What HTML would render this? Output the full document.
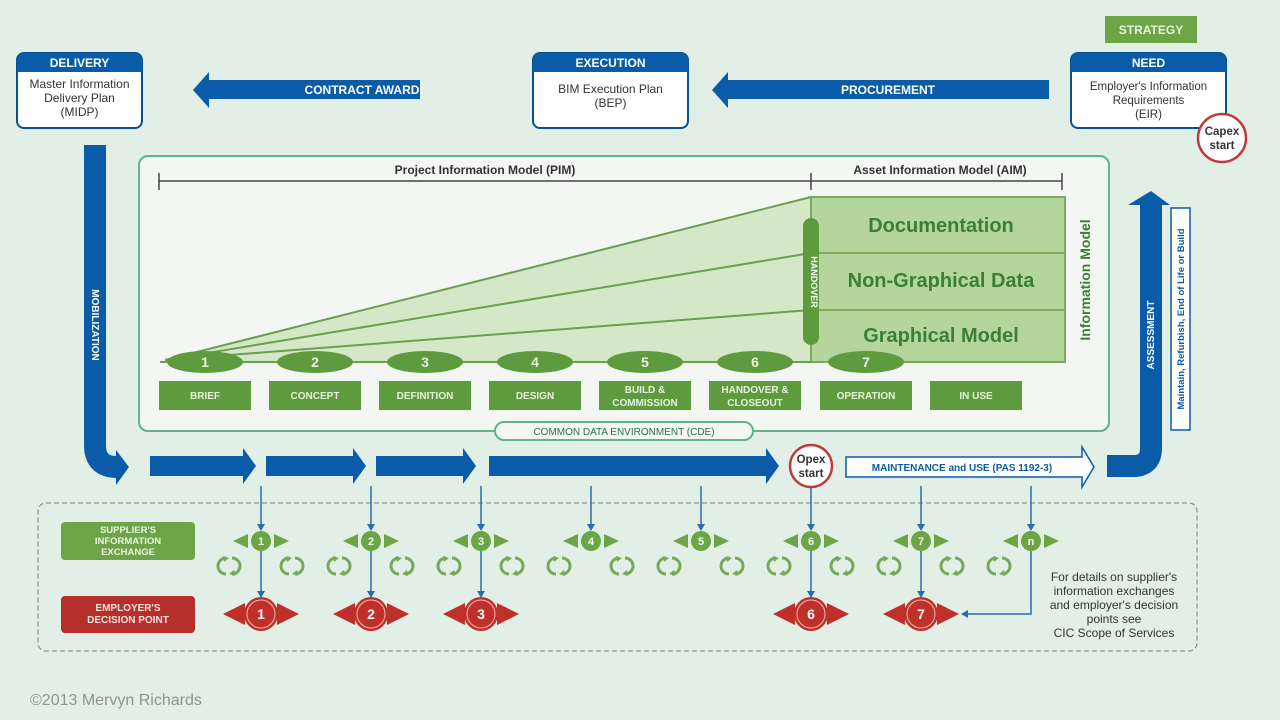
<!DOCTYPE html>
<html><head><meta charset="utf-8"><style>
html,body{margin:0;padding:0;background:#e1efe6;}
svg{display:block;font-family:"Liberation Sans",sans-serif;}
</style></head><body>
<svg width="1280" height="720" viewBox="0 0 1280 720" xmlns="http://www.w3.org/2000/svg">
<rect width="1280" height="720" fill="#e1efe6"/>
<defs>
<g id="cyc"><path d="M-3,-8 A8,8 0 0 0 -3,8" fill="none" stroke="#7aa85a" stroke-width="3"/><path d="M3,8 A8,8 0 0 0 3,-8" fill="none" stroke="#7aa85a" stroke-width="3"/><polygon points="-6,-10 0,-8 -5,-4" fill="#7aa85a"/><polygon points="6,10 0,8 5,4" fill="#7aa85a"/></g>
</defs>

<rect x="1105" y="16" width="92" height="27" fill="#6ba545"/>
<text x="1151" y="34" font-size="12" font-weight="bold" fill="#eaf5e0" text-anchor="middle">STRATEGY</text>

<g font-size="12" text-anchor="middle">
<rect x="17" y="53" width="125" height="75" rx="7" fill="#fff" stroke="#0a4f8f" stroke-width="2"/>
<path d="M17,72 V60 a7,7 0 0 1 7,-7 H135 a7,7 0 0 1 7,7 V72 Z" fill="#0a5ca8"/>
<text x="79.5" y="67" fill="#fff" font-weight="bold">DELIVERY</text>
<text x="79.5" y="88" fill="#333">Master Information</text>
<text x="79.5" y="102" fill="#333">Delivery Plan</text>
<text x="79.5" y="116" fill="#333">(MIDP)</text>

<rect x="533" y="53" width="155" height="75" rx="7" fill="#fff" stroke="#0a4f8f" stroke-width="2"/>
<path d="M533,72 V60 a7,7 0 0 1 7,-7 H681 a7,7 0 0 1 7,7 V72 Z" fill="#0a5ca8"/>
<text x="610.5" y="67" fill="#fff" font-weight="bold">EXECUTION</text>
<text x="610.5" y="93" fill="#333">BIM Execution Plan</text>
<text x="610.5" y="107" fill="#333">(BEP)</text>

<rect x="1071" y="53" width="155" height="75" rx="7" fill="#fff" stroke="#0a4f8f" stroke-width="2"/>
<path d="M1071,72 V60 a7,7 0 0 1 7,-7 H1219 a7,7 0 0 1 7,7 V72 Z" fill="#0a5ca8"/>
<text x="1148.5" y="67" fill="#fff" font-weight="bold">NEED</text>
<text x="1148.5" y="90" fill="#333" font-size="11.5">Employer's Information</text>
<text x="1148.5" y="104" fill="#333" font-size="11.5">Requirements</text>
<text x="1148.5" y="118" fill="#333" font-size="11.5">(EIR)</text>
</g>
<circle cx="1222" cy="138" r="24" fill="#fff" stroke="#c0393b" stroke-width="2.5"/>
<text x="1222" y="135" font-size="11.5" font-weight="bold" fill="#333" text-anchor="middle">Capex</text>
<text x="1222" y="149" font-size="11.5" font-weight="bold" fill="#333" text-anchor="middle">start</text>

<polygon points="193,90 209,72 209,80 420,80 420,99 209,99 209,108" fill="#0a5ca8"/>
<text x="362" y="94" font-size="12" font-weight="bold" fill="#fff" text-anchor="middle">CONTRACT AWARD</text>
<polygon points="712,90 728,72 728,80 1049,80 1049,99 728,99 728,108" fill="#0a5ca8"/>
<text x="888" y="94" font-size="12" font-weight="bold" fill="#fff" text-anchor="middle">PROCUREMENT</text>

<path d="M95,145 V445 Q95,467 117,467" fill="none" stroke="#0a5ca8" stroke-width="22"/>
<polygon points="116,450 129,467 116,485" fill="#0a5ca8"/>
<text transform="translate(92,325) rotate(90)" font-size="10" font-weight="bold" fill="#fff" text-anchor="middle">MOBILIZATION</text>

<rect x="139" y="156" width="970" height="275" rx="9" fill="#f3f6f3" stroke="#62b28c" stroke-width="2"/>
<line x1="159" y1="181" x2="1062" y2="181" stroke="#444" stroke-width="1.5"/>
<line x1="159" y1="173" x2="159" y2="190" stroke="#444" stroke-width="1.5"/>
<line x1="811" y1="173" x2="811" y2="190" stroke="#444" stroke-width="1.5"/>
<line x1="1062" y1="173" x2="1062" y2="190" stroke="#444" stroke-width="1.5"/>
<text x="485" y="174" font-size="12" font-weight="bold" fill="#333" text-anchor="middle">Project Information Model (PIM)</text>
<text x="940" y="174" font-size="12" font-weight="bold" fill="#333" text-anchor="middle">Asset Information Model (AIM)</text>

<polygon points="165,360 811,197 811,362 165,362" fill="#d4e7c6"/>
<line x1="165" y1="360" x2="811" y2="197" stroke="#6c9f52" stroke-width="2"/>
<line x1="165" y1="360" x2="811" y2="253" stroke="#6c9f52" stroke-width="2"/>
<line x1="165" y1="360" x2="811" y2="310" stroke="#6c9f52" stroke-width="2"/>
<rect x="811" y="197" width="254" height="165" fill="#b4d69c" stroke="#7daa5e" stroke-width="2"/>
<line x1="811" y1="253" x2="1065" y2="253" stroke="#7daa5e" stroke-width="2"/>
<line x1="811" y1="310" x2="1065" y2="310" stroke="#7daa5e" stroke-width="2"/>
<g font-size="20" font-weight="bold" fill="#3b7f34" text-anchor="middle">
<text x="941" y="232">Documentation</text>
<text x="941" y="287">Non-Graphical Data</text>
<text x="941" y="342">Graphical Model</text>
</g>
<rect x="803" y="218" width="16" height="127" rx="8" fill="#5e9a3e"/>
<text transform="translate(811,282) rotate(90)" font-size="9" font-weight="bold" fill="#fff" text-anchor="middle">HANDOVER</text>
<text transform="translate(1090,280) rotate(-90)" font-size="14" font-weight="bold" fill="#3b7f34" text-anchor="middle">Information Model</text>

<line x1="160" y1="362" x2="811" y2="362" stroke="#6c9f52" stroke-width="2"/>
<g fill="#5e9a3e">
<ellipse cx="205" cy="362" rx="38" ry="11"/><ellipse cx="315" cy="362" rx="38" ry="11"/>
<ellipse cx="425" cy="362" rx="38" ry="11"/><ellipse cx="535" cy="362" rx="38" ry="11"/>
<ellipse cx="645" cy="362" rx="38" ry="11"/><ellipse cx="755" cy="362" rx="38" ry="11"/>
<ellipse cx="866" cy="362" rx="38" ry="11"/>
</g>
<g font-size="14" font-weight="bold" fill="#e6f2dc" text-anchor="middle">
<text x="205" y="367">1</text><text x="315" y="367">2</text><text x="425" y="367">3</text><text x="535" y="367">4</text><text x="645" y="367">5</text><text x="755" y="367">6</text><text x="866" y="367">7</text>
</g>
<g fill="#5e9a3e">
<rect x="159" y="381" width="92" height="29"/><rect x="269" y="381" width="92" height="29"/>
<rect x="379" y="381" width="92" height="29"/><rect x="489" y="381" width="92" height="29"/>
<rect x="599" y="381" width="92" height="29"/><rect x="709" y="381" width="92" height="29"/>
<rect x="820" y="381" width="92" height="29"/><rect x="930" y="381" width="92" height="29"/>
</g>
<g font-size="10" font-weight="bold" fill="#e6f2dc" text-anchor="middle">
<text x="205" y="399">BRIEF</text><text x="315" y="399">CONCEPT</text><text x="425" y="399">DEFINITION</text><text x="535" y="399">DESIGN</text>
<text x="645" y="393">BUILD &amp;</text><text x="645" y="406">COMMISSION</text>
<text x="755" y="393">HANDOVER &amp;</text><text x="755" y="406">CLOSEOUT</text>
<text x="866" y="399">OPERATION</text><text x="976" y="399">IN USE</text>
</g>
<rect x="495" y="422" width="258" height="18" rx="9" fill="#f3f6f3" stroke="#62b28c" stroke-width="2"/>
<text x="624" y="435" font-size="10" fill="#2f6d5a" text-anchor="middle">COMMON DATA ENVIRONMENT (CDE)</text>

<path d="M1151,205 V448 Q1151,466 1133,466 H1107" fill="none" stroke="#0a5ca8" stroke-width="22"/>
<polygon points="1128,205 1151,191 1170,205" fill="#0a5ca8"/>
<text transform="translate(1154,335) rotate(-90)" font-size="10" font-weight="bold" fill="#fff" text-anchor="middle">ASSESSMENT</text>
<rect x="1171" y="208" width="19" height="222" fill="#fff" stroke="#0a5ca8" stroke-width="1.5"/>
<text transform="translate(1184,319) rotate(-90)" font-size="9.5" font-weight="bold" fill="#0a5ca8" text-anchor="middle">Maintain, Refurbish, End of Life or Build</text>

<g fill="#0a5ca8">
<polygon points="150,456 243,456 243,448 256,466 243,484 243,476 150,476"/>
<polygon points="266,456 353,456 353,448 366,466 353,484 353,476 266,476"/>
<polygon points="376,456 463,456 463,448 476,466 463,484 463,476 376,476"/>
<polygon points="489,456 766,456 766,448 779,466 766,484 766,476 489,476"/>
</g>
<circle cx="811" cy="466" r="21" fill="#fff" stroke="#c0393b" stroke-width="2.5"/>
<text x="811" y="463" font-size="11.5" font-weight="bold" fill="#333" text-anchor="middle">Opex</text>
<text x="811" y="477" font-size="11.5" font-weight="bold" fill="#333" text-anchor="middle">start</text>
<polygon points="846,457 1082,457 1082,447 1094,467 1082,487 1082,477 846,477" fill="#fff" stroke="#0a5ca8" stroke-width="1.5"/>
<text x="962" y="471" font-size="10" font-weight="bold" fill="#0a5ca8" text-anchor="middle">MAINTENANCE and USE (PAS 1192-3)</text>

<rect x="38" y="503" width="1159" height="148" rx="8" fill="none" stroke="#8a9a92" stroke-width="1.3" stroke-dasharray="5,3"/>
<rect x="61" y="522" width="134" height="38" rx="4" fill="#6ba545"/>
<g font-size="9.5" font-weight="bold" fill="#eaf5e0" text-anchor="middle">
<text x="128" y="533">SUPPLIER'S</text><text x="128" y="544">INFORMATION</text><text x="128" y="555">EXCHANGE</text>
</g>
<rect x="61" y="596" width="134" height="37" rx="4" fill="#b5302a"/>
<g font-size="10" font-weight="bold" fill="#f7e4e0" text-anchor="middle">
<text x="128" y="611">EMPLOYER'S</text><text x="128" y="623">DECISION POINT</text>
</g>

<g stroke="#2a6cb0" stroke-width="1.5">
<line x1="261" y1="486" x2="261" y2="528"/><line x1="371" y1="486" x2="371" y2="528"/><line x1="481" y1="486" x2="481" y2="528"/>
<line x1="591" y1="486" x2="591" y2="528"/><line x1="701" y1="486" x2="701" y2="528"/><line x1="811" y1="488" x2="811" y2="528"/>
<line x1="921" y1="486" x2="921" y2="528"/><line x1="1031" y1="486" x2="1031" y2="528"/>
<line x1="261" y1="551" x2="261" y2="594"/><line x1="371" y1="551" x2="371" y2="594"/><line x1="481" y1="551" x2="481" y2="594"/>
<line x1="811" y1="551" x2="811" y2="594"/><line x1="921" y1="551" x2="921" y2="594"/>
<polyline points="1031,551 1031,614 966,614" fill="none"/>
</g>
<g fill="#2a6cb0">
<polygon points="257,524 265,524 261,531"/><polygon points="367,524 375,524 371,531"/><polygon points="477,524 485,524 481,531"/>
<polygon points="587,524 595,524 591,531"/><polygon points="697,524 705,524 701,531"/><polygon points="807,524 815,524 811,531"/>
<polygon points="917,524 925,524 921,531"/><polygon points="1027,524 1035,524 1031,531"/>
<polygon points="257,591 265,591 261,598"/><polygon points="367,591 375,591 371,598"/><polygon points="477,591 485,591 481,598"/>
<polygon points="807,591 815,591 811,598"/><polygon points="917,591 925,591 921,598"/>
<polygon points="961,614 968,610 968,618"/>
</g>

<g fill="#6ba545">
<polygon points="233,541 248,534 248,548"/><polygon points="289,541 274,534 274,548"/><circle cx="261" cy="541" r="10"/>
<polygon points="343,541 358,534 358,548"/><polygon points="399,541 384,534 384,548"/><circle cx="371" cy="541" r="10"/>
<polygon points="453,541 468,534 468,548"/><polygon points="509,541 494,534 494,548"/><circle cx="481" cy="541" r="10"/>
<polygon points="563,541 578,534 578,548"/><polygon points="619,541 604,534 604,548"/><circle cx="591" cy="541" r="10"/>
<polygon points="673,541 688,534 688,548"/><polygon points="729,541 714,534 714,548"/><circle cx="701" cy="541" r="10"/>
<polygon points="783,541 798,534 798,548"/><polygon points="839,541 824,534 824,548"/><circle cx="811" cy="541" r="10"/>
<polygon points="893,541 908,534 908,548"/><polygon points="949,541 934,534 934,548"/><circle cx="921" cy="541" r="10"/>
<polygon points="1003,541 1018,534 1018,548"/><polygon points="1059,541 1044,534 1044,548"/><circle cx="1031" cy="541" r="10"/>
</g>
<g font-size="11" font-weight="bold" fill="#f0f8e8" text-anchor="middle">
<text x="261" y="545">1</text><text x="371" y="545">2</text><text x="481" y="545">3</text><text x="591" y="545">4</text>
<text x="701" y="545">5</text><text x="811" y="545">6</text><text x="921" y="545">7</text><text x="1031" y="545">n</text>
</g>
<use href="#cyc" x="229" y="566"/><use href="#cyc" x="292" y="566"/>
<use href="#cyc" x="339" y="566"/><use href="#cyc" x="402" y="566"/>
<use href="#cyc" x="449" y="566"/><use href="#cyc" x="512" y="566"/>
<use href="#cyc" x="559" y="566"/><use href="#cyc" x="622" y="566"/>
<use href="#cyc" x="669" y="566"/><use href="#cyc" x="732" y="566"/>
<use href="#cyc" x="779" y="566"/><use href="#cyc" x="842" y="566"/>
<use href="#cyc" x="889" y="566"/><use href="#cyc" x="952" y="566"/>
<use href="#cyc" x="999" y="566"/>

<g fill="#c0302a">
<polygon points="223,614 245,603 245,625"/><polygon points="299,614 277,603 277,625"/><circle cx="261" cy="614" r="17"/>
<polygon points="333,614 355,603 355,625"/><polygon points="409,614 387,603 387,625"/><circle cx="371" cy="614" r="17"/>
<polygon points="443,614 465,603 465,625"/><polygon points="519,614 497,603 497,625"/><circle cx="481" cy="614" r="17"/>
<polygon points="773,614 795,603 795,625"/><polygon points="849,614 827,603 827,625"/><circle cx="811" cy="614" r="17"/>
<polygon points="883,614 905,603 905,625"/><polygon points="959,614 937,603 937,625"/><circle cx="921" cy="614" r="17"/>
</g>
<g fill="none" stroke="#f2b8b0" stroke-width="1"><circle cx="261" cy="614" r="14"/><circle cx="371" cy="614" r="14"/><circle cx="481" cy="614" r="14"/><circle cx="811" cy="614" r="14"/><circle cx="921" cy="614" r="14"/></g>
<g font-size="14" font-weight="bold" fill="#fff" text-anchor="middle">
<text x="261" y="619">1</text><text x="371" y="619">2</text><text x="481" y="619">3</text><text x="811" y="619">6</text><text x="921" y="619">7</text>
</g>

<g font-size="12" fill="#333" text-anchor="middle">
<text x="1114" y="581">For details on supplier's</text>
<text x="1114" y="595">information exchanges</text>
<text x="1114" y="609">and employer's decision</text>
<text x="1114" y="623">points see</text>
<text x="1114" y="637">CIC Scope of Services</text>
</g>

<text x="30" y="705" font-size="16" fill="#8a968f">©2013 Mervyn Richards</text>
</svg>
</body></html>
